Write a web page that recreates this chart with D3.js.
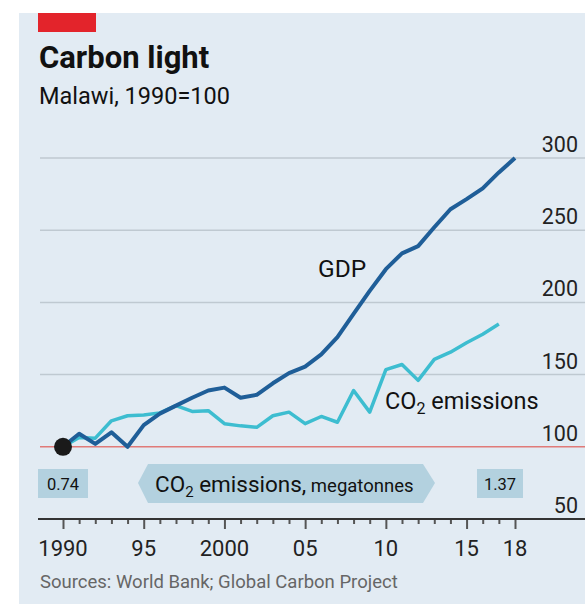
<!DOCTYPE html>
<html>
<head>
<meta charset="utf-8">
<script src="https://cdn.jsdelivr.net/npm/d3@7"></script>
<style>
  body { margin: 0; background: #fff; }
  text { font-family: Roboto, "Noto Sans", sans-serif; }
</style>
</head>
<body>
<div id="chart"></div>
<script>
// values, indexed 1990=100
const years = d3.range(1990, 2019);
const gdp = [100, 109, 102, 110, 100, 115, 123, 128.5, 134, 139, 141, 134, 136, 144, 151,
  155.5, 164, 176, 192, 208, 223, 234, 239, 252, 264.5, 271.5, 279, 290, 300];
const co2 = [100, 106.5, 106, 118, 121.5, 122, 123.5, 128.5, 124.5, 125, 116, 114.5, 113.5, 121.5, 124,
  116, 121, 117, 139, 124, 153.5, 157, 146, 160.5, 165.5, 172, 178, 185];
const yTicks = [50, 100, 150, 200, 250, 300];
const xMajor = [1990, 1995, 2000, 2005, 2010, 2015, 2018];
const xLabels = ["1990", "95", "2000", "05", "10", "15", "18"];
const co2Start = "0.74", co2End = "1.37";

const W = 585, H = 604;
const svg = d3.select('#chart').append('svg')
  .attr("width", W)
  .attr("height", H);

// panel
svg.append("rect").attr("x", 19).attr("y", 13).attr("width", W - 19).attr("height", H - 13)
  .attr("fill", "#e2ebf3");
svg.append("rect").attr("x", 38).attr("y", 13).attr("width", 58).attr("height", 19)
  .attr("fill", "#e3242b");

svg.append("text").attr("x", 39).attr("y", 68)
  .attr("font-size", 31).attr("font-weight", 700).attr("fill", "#111")
  .text("Carbon light");
svg.append("text").attr("x", 39).attr("y", 104)
  .attr("font-size", 23.5).attr("fill", "#111")
  .text("Malawi, 1990=100");

var x = d3.scaleLinear().domain([1990, 2018]).range([63, 515]);
var y = d3.scaleLinear().domain([50, 300]).range([519, 158]);

// gridlines + right labels
yTicks.forEach(function (t) {
  if (t > 100) {
    svg.append("line").attr("x1", 40).attr("x2", W).attr("y1", y(t)).attr("y2", y(t))
      .attr("stroke", "#bfc9d1").attr("stroke-width", 1.5);
  }
  svg.append("text").attr("x", 578).attr("y", y(t) - 6)
    .attr("text-anchor", "end").attr("font-size", 21.5).attr("fill", "#222")
    .text(t);
});
svg.append("line").attr("x1", 40).attr("x2", W).attr("y1", y(100)).attr("y2", y(100))
  .attr("stroke", "#e07a78").attr("stroke-width", 1.5);

// x axis
const xAxis = svg.append("g")
  .attr("transform", "translate(0," + y(50) + ")")
  .call(d3.axisBottom(x).tickValues(years).tickSize(5).tickFormat(""));
xAxis.select(".domain").remove();
xAxis.selectAll(".tick line").attr("stroke", "#555").attr("stroke-width", 2)
  .attr("y2", d => xMajor.includes(d) ? 10 : 5);
svg.append("line").attr("x1", 38).attr("x2", W).attr("y1", y(50)).attr("y2", y(50))
  .attr("stroke", "#333").attr("stroke-width", 2);
xMajor.forEach(function (yr, i) {
  svg.append("text").attr("x", x(yr)).attr("y", 556)
    .attr("text-anchor", "middle").attr("font-size", 22).attr("fill", "#222")
    .text(xLabels[i]);
});

// lines
const line = d3.line().x((d, i) => x(years[i])).y(d => y(d));
svg.append("path").datum(co2).attr("d", line)
  .attr("fill", "none").attr("stroke", "#3dbdd0").attr("stroke-width", 3.5)
  .attr("stroke-linejoin", "round");
svg.append("path").datum(gdp).attr("d", line)
  .attr("fill", "none").attr("stroke", "#1f5e98").attr("stroke-width", 4)
  .attr("stroke-linejoin", "round");
svg.append("circle").attr("cx", x(1990)).attr("cy", y(100)).attr("r", 9)
  .attr("fill", "#1a1a1a");

// line labels
svg.append("text").attr("x", 318).attr("y", 277)
  .attr("font-size", 24.5).attr("fill", "#111").text("GDP");
const co2Label = svg.append("text").attr("x", 385).attr("y", 409)
  .attr("font-size", 23.5).attr("fill", "#111");
co2Label.append("tspan").text("CO");
co2Label.append("tspan").attr("font-size", 16).attr("dy", 5).text("2");
co2Label.append("tspan").attr("dy", -5).text(" emissions");

// megatonne annotation
svg.append("rect").attr("x", 38).attr("y", 469).attr("width", 50).attr("height", 29)
  .attr("fill", "#b3d1df");
svg.append("text").attr("x", 63).attr("y", 490).attr("text-anchor", "middle")
  .attr("font-size", 16.5).attr("fill", "#111").text(co2Start);
svg.append("rect").attr("x", 477).attr("y", 469).attr("width", 46).attr("height", 29)
  .attr("fill", "#b3d1df");
svg.append("text").attr("x", 500).attr("y", 490).attr("text-anchor", "middle")
  .attr("font-size", 16.5).attr("fill", "#111").text(co2End);

svg.append("path")
  .attr("d", "M138,483 L148,464 L423,464 L435,483 L423,503 L148,503 Z")
  .attr("fill", "#b3d1df");
const band = svg.append("text").attr("x", 155).attr("y", 492)
  .attr("font-size", 22.5).attr("fill", "#111");
band.append("tspan").text("CO");
band.append("tspan").attr("font-size", 15).attr("dy", 5).text("2");
band.append("tspan").attr("dy", -5).text(" emissions,");
band.append("tspan").attr("font-size", 18.5).text(" megatonnes");

svg.append("text").attr("x", 40).attr("y", 588)
  .attr("font-size", 18.5).attr("fill", "#666")
  .text("Sources: World Bank; Global Carbon Project");
</script>
</body>
</html>
